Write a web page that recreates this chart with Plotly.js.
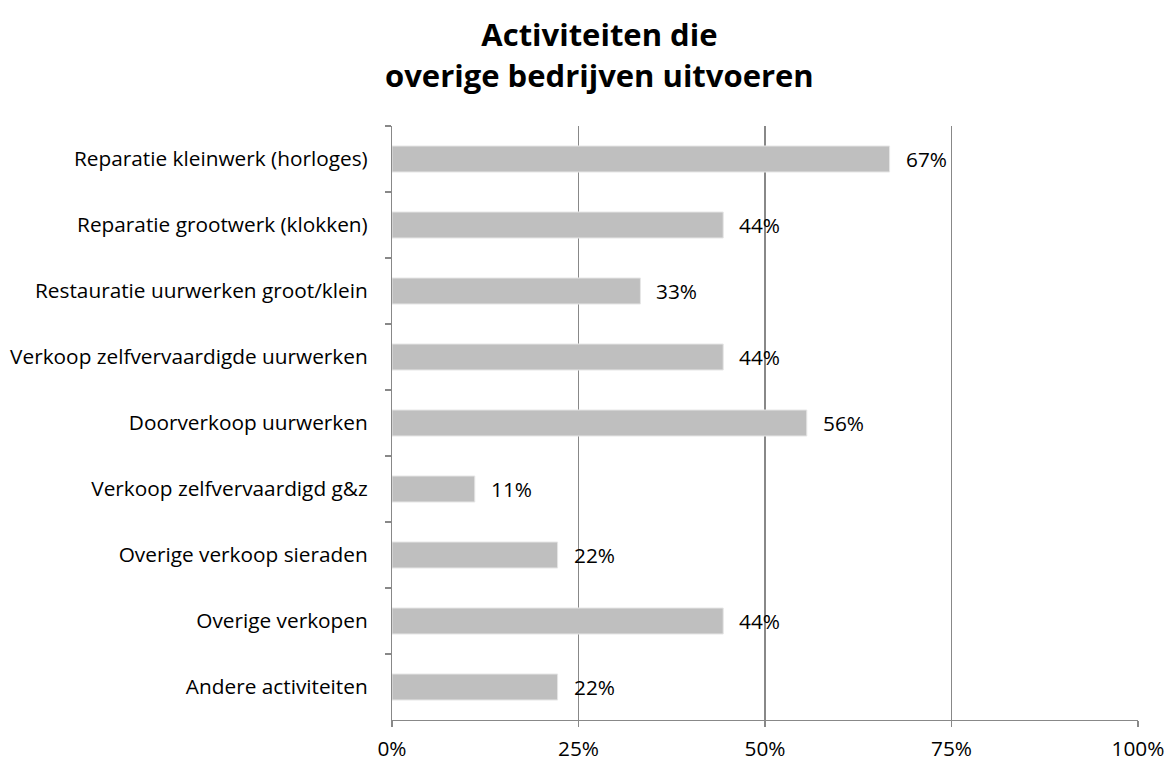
<!DOCTYPE html>
<html>
<head>
<meta charset="utf-8">
<script src="https://cdn.plot.ly/plotly-3.0.1.min.js"></script>
<style>html,body{margin:0;padding:0;background:#fff;}#chart{width:1173px;height:762px;}</style>
</head>
<body>
<div id="chart"></div>
<script>
var categories = [
  "Reparatie kleinwerk (horloges)",
  "Reparatie grootwerk (klokken)",
  "Restauratie uurwerken groot/klein",
  "Verkoop zelfvervaardigde uurwerken",
  "Doorverkoop uurwerken",
  "Verkoop zelfvervaardigd g&z",
  "Overige verkoop sieraden",
  "Overige verkopen",
  "Andere activiteiten"
];
var values = [0.667, 0.444, 0.333, 0.444, 0.556, 0.111, 0.222, 0.444, 0.222];
var tickVals = [0, 0.25, 0.5, 0.75, 1];
var tickText = ["0%", "25%", "50%", "75%", "100%"];
var titleText = "Activiteiten die<br>overige bedrijven uitvoeren";

var FONT = "Open Sans, sans-serif";
var FS = 20.8;
var annotations = categories.map(function (c, i) {
  return {
    x: values[i], y: c, xref: "x", yref: "y",
    text: Math.round(values[i] * 100) + "%",
    showarrow: false, xanchor: "left", xshift: 14,
    font: {family: FONT, size: FS, color: "#000"}
  };
});

var trace = {
  type: "bar", orientation: "h",
  x: values, y: categories,
  marker: {color: "#bfbfbf", line: {color: "#e6e6e6", width: 1}},
  hoverinfo: "none"
};

var layout = {
  width: 1173, height: 762,
  margin: {l: 392, r: 35, t: 126, b: 42},
  paper_bgcolor: "#fff", plot_bgcolor: "#fff",
  font: {family: FONT, size: FS, color: "#000"},
  title: {
    text: titleText, xref: "container", x: 0.511, xanchor: "center",
    yref: "container", y: 0.939, yanchor: "middle",
    font: {family: FONT, size: 31, color: "#000", weight: "bold", lineposition: "none"}
  },
  bargap: 0.606,
  showlegend: false,
  xaxis: {
    range: [0, 1], tickvals: tickVals, ticktext: tickText,
    showgrid: true, gridcolor: "#888888", gridwidth: 1.1,
    showline: true, linecolor: "#888888", linewidth: 1.1,
    ticks: "outside", ticklen: 6, tickcolor: "#888888", tickwidth: 1.1,
    zeroline: false, ticklabelstandoff: 4,
    fixedrange: true
  },
  yaxis: {
    type: "category", autorange: "reversed",
    showline: true, linecolor: "#888888", linewidth: 1.1,
    ticks: "outside", ticklen: 6, tickcolor: "#888888", tickwidth: 1.1,
    tickson: "boundaries", showgrid: false, zeroline: false,
    ticklabelstandoff: 19, fixedrange: true
  },
  annotations: annotations
};

Plotly.newPlot("chart", [trace], layout, {displayModeBar: false, staticPlot: true});
</script>
</body>
</html>
